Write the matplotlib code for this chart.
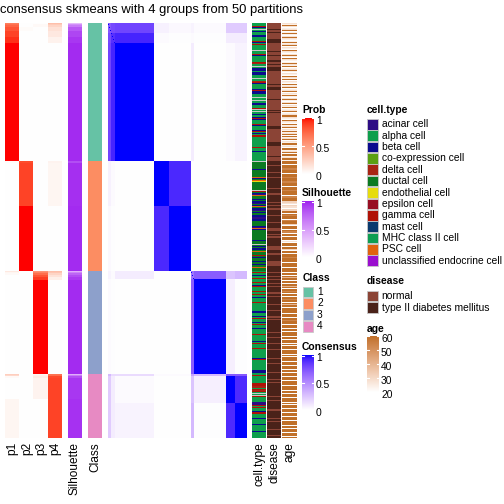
import numpy as np
import matplotlib
matplotlib.use("Agg")
import matplotlib.pyplot as plt
from matplotlib.colors import ListedColormap, to_rgb
from matplotlib.patches import Rectangle

plt.rcParams['font.family'] = ['Liberation Sans', 'DejaVu Sans']

# ---------------- data ----------------
title = "consensus skmeans with 4 groups from 50 partitions"

class_labels = ["1", "2", "3", "4"]
class_colors = ["#66C2A5", "#FC8D62", "#8DA0CB", "#E78AC3"]

cell_types = ["acinar cell", "alpha cell", "beta cell", "co-expression cell",
              "delta cell", "ductal cell", "endothelial cell", "epsilon cell",
              "gamma cell", "mast cell", "MHC class II cell", "PSC cell",
              "unclassified endocrine cell"]
cell_codes = "ALBCDUEPGMHSX"   # one letter per cell type, N = missing
cell_colors = ["#2D0D84", "#0E9F4C", "#0B0B8E", "#5BA013", "#A82414", "#0B7A22",
               "#E6DC0E", "#970E22", "#B01206", "#0A3A6E", "#0E9E52", "#E0620E",
               "#9A0ECE"]
na_color = "#C8C8C8"

disease_levels = ["normal", "type II diabetes mellitus"]
disease_codes = "nt"
disease_colors = ["#8B4436", "#4A2219"]

age_levels = [20, 24, 28, 32, 36, 40, 44, 48, 54, 60]   # digit -> age
age_ticks = [20, 30, 40, 50, 60]

# per-sample annotation, one character per sample, by class
cell_g1 = "".join(["LLLGBLNLBL", "LLBBLLLLGB", "LGLLLLLNLL", "LGBLLLLLLG", "DLLNLBBBLB",
                   "BBLLLNLLDG", "BLLLLLBGBB", "BLLLNLLNLL", "BBLLLGNLNL", "LBLLBGBLLL",
                   "LGBLLLLBGL", "BLGGLLLLLL", "LLLLGLLLBL", "LLLLLLLL"])
cell_g2 = "".join(["NUUUUUUUBU", "UUUUUUSBUS", "EUUUUUUUUN", "GUBASUUUBU", "BBAUBSUBBA",
                   "UBUUBBAABB", "UUUUUBASBU", "UUUUUUUUUB", "UUUNUBUBBU", "SUUUGUBUUU",
                   "BUUBUUSUUU"])
cell_g3 = "".join(["LGLLBLLGLL", "LGLLBGLLLL", "GLLGLLBLLL", "LGLLLLLLLL", "BBLLLBLGLL",
                   "LBLGLLLBLL", "LLLGLLLLLL", "BLGLLLLGLL", "LLLLLLLBGL", "LLLLLLLLLB",
                   "BBL"])
cell_g4 = "".join(["LGLLLLLLLG", "GGDDLGDGLN", "LNGLLLLLAA", "AGLGLLLBGG", "LLLLBLLLLL",
                   "BLLLLLLBLL", "LLLL"])

dis_g1 = "".join(["nnnnnntnnt", "nnnnnntttt", "nnnnnnnntn", "nntnnnnttn", "ntnnttttnn",
                  "nnnnnnnnnn", "ntnntttnnn", "nnnnnntnnn", "nnnnnnntnt", "nnnnnnnnnn",
                  "nnntttnnnn", "nnnnnnnnnt", "tttnnnnnnn", "nnntnnnn"])
dis_g2 = "".join(["ttttnttttt", "tnttttnttt", "tttttttntt", "ttnntttttt", "tnttnttnnt",
                  "ttttnttttt", "tntttttnnn", "tttntnnttt", "tttttnnnnt", "ttnntttttt",
                  "nnnnnttttt"])
dis_g3 = "".join(["tntttnttnt", "ttnttntttt", "tnnttntttt", "tttntttttn", "tttttnntnt",
                  "tttttttttt", "tnttttnttt", "ttntttttnt", "tttttttntt", "ttnttttttt",
                  "tnt"])
dis_g4 = "".join(["tttttnttnt", "tttttttttt", "ttntttnttt", "tttttnnttt", "ttttnttntt",
                  "tttttntttt", "tntt"])

age_g1 = "".join(["2192012901", "9102921019", "1290210921", "0291092101", "9219012910",
                  "2109219021", "0912901290", "2191029102", "9021901290", "1299210921",
                  "0912902191", "2909129021", "9912099129", "09912991"])
age_g2 = "".join(["9990999889", "9909998999", "8899909998", "9999088999", "3320322033",
                  "9909899908", "9993099909", "8809909990", "2099909930", "9909998999",
                  "9099990999"])
age_g3 = "".join(["9099095990", "9909959099", "8909909989", "9095990999", "9909990998",
                  "9990999099", "0999909909", "9909099909", "9990909999", "0999099909",
                  "909"])
age_g4 = "".join(["9909990999", "9099990990", "9990999909", "0999099909", "9909990999",
                  "9099099909", "9909"])

# class membership probabilities and silhouette, run-length: (n, p1, p2, p3, p4, silhouette)
prob_g1 = [(1, .65, 0, 0, .33, .35), (1, .70, 0, .03, .27, .55), (2, .75, 0, .03, .22, .65),
           (4, .82, .02, 0, .16, .80), (6, .88, 0, 0, .12, .88), (6, .93, 0, 0, .07, .93),
           (118, 1, 0, 0, 0, .97)]
prob_g2 = [(2, .02, .85, 0, .06, .85), (43, 0, .88, 0, .05, .96), (65, 0, 1, 0, 0, .97)]
prob_g3 = [(1, .12, 0, .55, .33, .40), (1, .05, 0, .62, .30, .60), (2, .03, 0, .72, .22, .75),
           (2, 0, 0, .82, .15, .85), (3, 0, 0, .90, .08, .92), (94, 0, 0, 1, 0, .97)]
prob_g4 = [(1, .25, 0, .05, .70, .40), (1, .20, 0, .08, .72, .65), (2, .03, 0, .10, .86, .85),
           (21, 0, 0, .06, .88, .93), (39, .05, 0, 0, .88, .95)]

# consensus: sub-blocks of samples (in order) and mean consensus between them
sub_sizes = [10, 10, 118, 45, 65, 8, 95, 2, 27, 35]
sub_values = [
    [0.72, 0.78, 0.80, 0.06, 0.03, 0.05, 0.02, 0.30, 0.22, 0.22],
    [0.78, 0.88, 0.92, 0.02, 0.01, 0.02, 0.01, 0.15, 0.08, 0.08],
    [0.80, 0.92, 1.00, 0.00, 0.00, 0.08, 0.00, 0.15, 0.02, 0.05],
    [0.06, 0.02, 0.00, 1.00, 0.91, 0.00, 0.00, 0.02, 0.00, 0.00],
    [0.03, 0.01, 0.00, 0.91, 1.00, 0.00, 0.00, 0.02, 0.00, 0.00],
    [0.05, 0.02, 0.08, 0.00, 0.00, 0.60, 0.70, 0.40, 0.25, 0.30],
    [0.02, 0.01, 0.00, 0.00, 0.00, 0.70, 1.00, 0.30, 0.07, 0.01],
    [0.30, 0.15, 0.15, 0.02, 0.02, 0.40, 0.30, 0.80, 0.72, 0.72],
    [0.22, 0.08, 0.02, 0.00, 0.00, 0.25, 0.07, 0.72, 1.00, 0.90],
    [0.22, 0.08, 0.05, 0.00, 0.00, 0.30, 0.01, 0.72, 0.90, 1.00],
]

# ---------------- assemble ----------------
cells = cell_g1 + cell_g2 + cell_g3 + cell_g4
dis = dis_g1 + dis_g2 + dis_g3 + dis_g4
ages = age_g1 + age_g2 + age_g3 + age_g4
group_sizes = [len(cell_g1), len(cell_g2), len(cell_g3), len(cell_g4)]
N = len(cells)
assert len(dis) == N and len(ages) == N and sum(sub_sizes) == N

prob_rows = []
for segs in (prob_g1, prob_g2, prob_g3, prob_g4):
    for seg in segs:
        prob_rows += [seg[1:]] * seg[0]
prob_rows = np.array(prob_rows)
assert len(prob_rows) == N
prob = prob_rows[:, :4]
sil = prob_rows[:, 4:5]
cls = np.repeat(np.arange(4), group_sizes)[:, None]

sub_id = np.repeat(np.arange(len(sub_sizes)), sub_sizes)
cons = np.array(sub_values)[sub_id][:, sub_id]
np.fill_diagonal(cons, 1.0)

cell_idx = np.array([cell_codes.index(c) if c in cell_codes else len(cell_codes)
                     for c in cells])[:, None]
dis_idx = np.array([disease_codes.index(c) for c in dis])[:, None]
age_val = np.array([age_levels[int(c)] for c in ages], float)[:, None]


# ---------------- colours (LAB interpolation like circlize) ----------------
def _to_lab(rgb):
    rgb = np.asarray(rgb, float)
    lin = np.where(rgb <= 0.04045, rgb / 12.92, ((rgb + 0.055) / 1.055) ** 2.4)
    M = np.array([[0.4124, 0.3576, 0.1805], [0.2126, 0.7152, 0.0722], [0.0193, 0.1192, 0.9505]])
    xyz = M @ lin / np.array([0.95047, 1.0, 1.08883])
    d = 6 / 29
    f = np.where(xyz > d ** 3, np.cbrt(xyz), xyz / (3 * d * d) + 4 / 29)
    return np.array([116 * f[1] - 16, 500 * (f[0] - f[1]), 200 * (f[1] - f[2])])


def _from_lab(lab):
    L, a, b = lab
    fy = (L + 16) / 116
    fx = fy + a / 500
    fz = fy - b / 200
    d = 6 / 29
    f = np.array([fx, fy, fz])
    xyz = np.where(f > d, f ** 3, 3 * d * d * (f - 4 / 29)) * np.array([0.95047, 1.0, 1.08883])
    Minv = np.linalg.inv(np.array([[0.4124, 0.3576, 0.1805], [0.2126, 0.7152, 0.0722],
                                   [0.0193, 0.1192, 0.9505]]))
    lin = np.clip(Minv @ xyz, 0, 1)
    rgb = np.where(lin <= 0.0031308, lin * 12.92, 1.055 * lin ** (1 / 2.4) - 0.055)
    return np.clip(rgb, 0, 1)


def lab_cmap(c_low, c_high, n=256):
    l1, l2 = _to_lab(to_rgb(c_low)), _to_lab(to_rgb(c_high))
    return ListedColormap([_from_lab(l1 + (l2 - l1) * t) for t in np.linspace(0, 1, n)])


cm_prob = lab_cmap("white", "red")
cm_sil = lab_cmap("white", "#A020F0")
cm_cons = lab_cmap("white", "blue")
cm_age = lab_cmap("white", "#C0702A")

# ---------------- figure ----------------
W = H = 504
fig = plt.figure(figsize=(5.04, 5.04), dpi=100)
TOP, BOT = 23, 438


def px_axes(x0, x1, y0=TOP, y1=BOT):
    ax = fig.add_axes([x0 / W, 1 - y1 / H, (x1 - x0) / W, (y1 - y0) / H])
    ax.set_axis_off()
    return ax


def show(ax, data, cmap, vmin, vmax):
    ax.imshow(data, cmap=cmap, vmin=vmin, vmax=vmax, aspect="auto",
              interpolation="nearest")


show(px_axes(5, 62), prob, cm_prob, 0, 1)
show(px_axes(68, 82), sil, cm_sil, 0, 1)
show(px_axes(88, 102), cls, ListedColormap(class_colors), -0.5, 3.5)
show(px_axes(108, 246), cons, cm_cons, 0, 1)
show(px_axes(252, 266), cell_idx, ListedColormap(cell_colors + [na_color]),
     -0.5, len(cell_codes) + 0.5)
show(px_axes(267, 281), dis_idx, ListedColormap(disease_colors), -0.5, 1.5)
show(px_axes(282, 297), age_val, cm_age, 20, 60)

# overlay in pixel coordinates for texts and legends
ov = fig.add_axes([0, 0, 1, 1])
ov.set_xlim(0, W)
ov.set_ylim(H, 0)
ov.set_axis_off()
ov.patch.set_alpha(0)

ov.text(151, 9.5, title, ha="center", va="center", fontsize=9.4)

bottom_labels = [("p1", 12.5), ("p2", 27), ("p3", 41), ("p4", 55),
                 ("Silhouette", 75), ("Class", 95),
                 ("cell.type", 259), ("disease", 274), ("age", 289.5)]
for lab, x in bottom_labels:
    ov.text(x, 442, lab, rotation=90, ha="center", va="top", fontsize=8.6)

LFS = 7.4


def colorbar(x, y_top, h, cmap, vmin, vmax, ticks, labels, title, title_y):
    ov.text(x, title_y, title, ha="left", va="center", fontsize=LFS, fontweight="bold")
    grad = np.linspace(vmax, vmin, 200)[:, None]
    ov.imshow(grad, cmap=cmap, vmin=vmin, vmax=vmax, aspect="auto",
              extent=(x, x + 12, y_top + h, y_top), interpolation="bilinear")
    for t, lab in zip(ticks, labels):
        y = y_top + (vmax - t) / (vmax - vmin) * h
        ov.plot([x, x + 2.2], [y, y], color="white", lw=0.8)
        ov.plot([x + 9.8, x + 12], [y, y], color="white", lw=0.8)
        ov.text(x + 14, y + 2.5, lab, ha="left", va="center", fontsize=LFS)


colorbar(302, 118, 56, cm_prob, 0, 1, [0, .5, 1], ["0", "0.5", "1"], "Prob", 110)
colorbar(302, 201.5, 56, cm_sil, 0, 1, [0, .5, 1], ["0", "0.5", "1"], "Silhouette", 193.5)
colorbar(302, 355.5, 55, cm_cons, 0, 1, [0, .5, 1], ["0", "0.5", "1"], "Consensus", 347)
colorbar(367, 336, 56, cm_age, 20, 60, age_ticks, [str(a) for a in age_ticks], "age", 328.5)


def discrete_legend(x, y0, step, labels, colors, title, title_y):
    ov.text(x, title_y, title, ha="left", va="center", fontsize=LFS, fontweight="bold")
    for i, (lab, col) in enumerate(zip(labels, colors)):
        yc = y0 + i * step
        ov.add_patch(Rectangle((x, yc - 5.3), 10.6, 10.6, facecolor=col,
                               edgecolor="#C8C8C8", lw=0.6))
        ov.text(x + 14.5, yc, lab, ha="left", va="center", fontsize=LFS)


discrete_legend(302.5, 292, 11.4, class_labels, class_colors, "Class", 278)
discrete_legend(367, 124.3, 11.37, cell_types, cell_colors, "cell.type", 110)
discrete_legend(367, 296, 11.7, disease_levels, disease_colors, "disease", 281)

fig.savefig("out.png", dpi=100)
